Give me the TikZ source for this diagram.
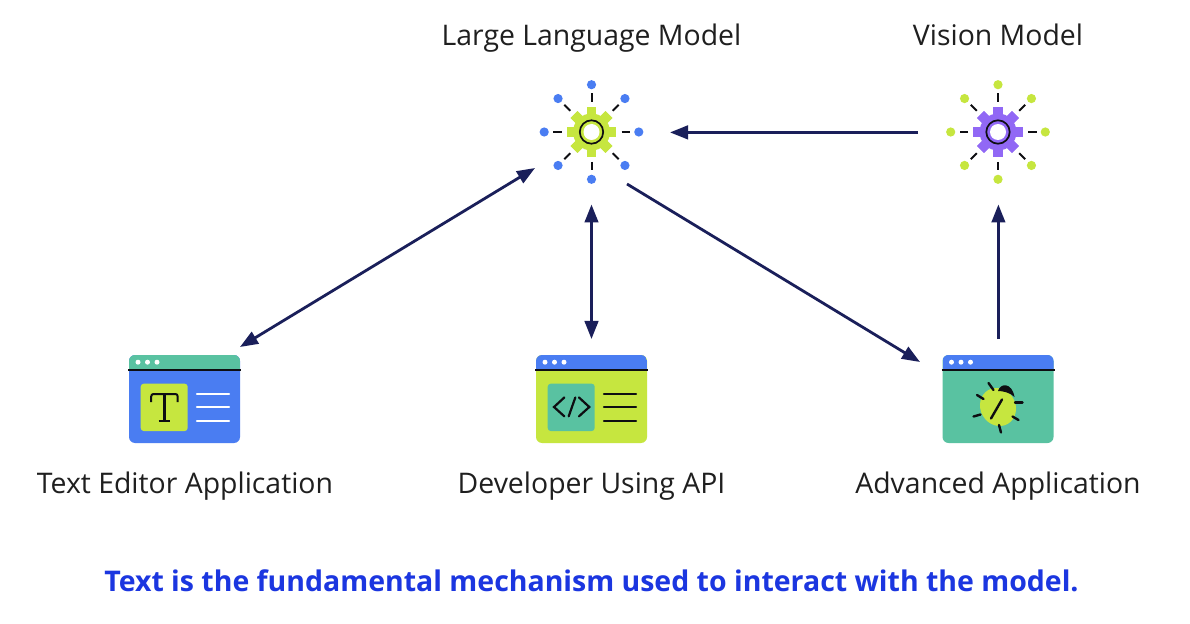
\documentclass[tikz,border=0pt]{standalone}
\usepackage{fontspec}
\setmainfont{Open Sans}
\usetikzlibrary{arrows.meta}
\definecolor{ibl}{HTML}{4A7DF2}
\definecolor{igr}{HTML}{C6E63F}
\definecolor{itl}{HTML}{59C2A1}
\definecolor{ipu}{HTML}{9168F5}
\definecolor{navy}{HTML}{1A1F5A}
\definecolor{ink}{HTML}{0E0E12}
\definecolor{capblue}{HTML}{1B36E0}
\tikzset{
  headtip/.tip={Triangle[length=18*0.75pt,width=13.5*0.75pt]},
  conn/.style={draw=navy,line width=2.8*0.75pt,-headtip},
  conn2/.style={draw=navy,line width=2.8*0.75pt,headtip-headtip},
  lbl/.style={font=\fontsize{21.3pt}{25pt}\selectfont,text=black!88,inner sep=0pt,anchor=base},
  caption/.style={font=\fontsize{21.35pt}{25pt}\bfseries\selectfont,text=capblue,inner sep=0pt,anchor=base},
  inkline/.style={draw=ink,line width=2.2*0.75pt,line cap=round},
  pics/gear/.style n args={2}{code={
    \foreach \a in {0,45,...,315}{
      \fill[#1,rotate=\a] (-4.8,-24.7) rectangle (4.8,24.7);
      \fill[#2] ({47.3*cos(\a)},{47.3*sin(\a)}) circle (4.6);
      \draw[draw=ink,line width=2*0.75pt] ({30*cos(\a)},{30*sin(\a)}) -- ({38.5*cos(\a)},{38.5*sin(\a)});
    }
    \fill[#1] (0,0) circle (18.5);
    \fill[white] (0,0) circle (8);
    \draw[draw=ink,line width=1.7*0.75pt] (0,0) circle (11.7);
  }},
  pics/window/.style n args={2}{code={
    \fill[#2,rounded corners=6*0.75pt] (0,0) rectangle (111,88);
    \begin{scope}
      \clip[rounded corners=6*0.75pt] (0,0) rectangle (111,88);
      \fill[#1] (0,0) rectangle (111,15);
    \end{scope}
    \draw[draw=ink,line width=2.2*0.75pt] (-1,15) -- (112,15);
    \foreach \x in {9,18.5,28}{\fill[white] (\x,7.2) circle (2.5);}
  }},
  pics/rows/.style={code={
    \foreach \y in {38.7,52.3,65.7}{\draw[draw=#1,line width=2.2*0.75pt,line cap=round] (68,\y) -- (100,\y);}
  }},
}
\begin{document}
\begin{tikzpicture}[x=0.75pt,y=-0.75pt]
\useasboundingbox (0,0) rectangle (1190,624);
\fill[white] (0,0) rectangle (1190,624);

% gears
\pic at (591.5,132) {gear={igr}{ibl}};
\pic at (998,132) {gear={ipu}{igr}};

% windows
\pic at (129,355) {window={itl}{ibl}};
\fill[igr,rounded corners=3*0.75pt] (140.7,383.7) rectangle (187.7,431);
\pic at (129,355) {rows=white};
\draw[draw=ink,line width=2*0.75pt] (151.2,402) -- (151.2,396.5) to[out=90,in=180] (153.5,394) -- (175.5,394) to[out=0,in=90] (177.7,396.5) -- (177.7,402);
\draw[draw=ink,line width=2.2*0.75pt] (164.4,394) -- (164.4,420.8) (158.5,420.8) -- (170.3,420.8);

\pic at (536,355) {window={ibl}{igr}};
\fill[itl,rounded corners=3*0.75pt] (547.7,383.7) rectangle (594.7,431);
\pic at (536,355) {rows=ink};
\draw[inkline] (564.3,397.5) -- (554,407) -- (564.3,416.3);
\draw[inkline] (568.7,416.3) -- (575.3,397.5);
\draw[inkline] (579,397.5) -- (589.3,407) -- (579,416.3);

\pic at (942.5,355) {window={ibl}{itl}};
\fill[igr,rotate around={-60:(998,407)}] (998,407) ellipse (19.5 and 17.5);
\fill[ink] (998,391) .. controls (1000,383) and (1012,382) .. (1014.5,397) .. controls (1010,392.5) and (1003,391) .. cycle;
\draw[inkline,line width=2.4*0.75pt] (991,418.5) -- (1002,399.5);
\draw[inkline,line width=2.4*0.75pt] (988.5,383) -- (993.5,390);
\draw[inkline,line width=2.4*0.75pt] (977,395) -- (983.5,399);
\draw[inkline,line width=2.4*0.75pt] (973.5,416.5) -- (980.5,414.5);
\draw[inkline,line width=2.4*0.75pt] (999,425) -- (1001,432.5);
\draw[inkline,line width=2.4*0.75pt] (1012.5,416.5) -- (1018.5,420);
\draw[inkline,line width=2.4*0.75pt] (1015,402.5) -- (1022.5,402.5);

% labels
\node[lbl] (llm) at (591.5,45.5) {Large Language Model};
\node[lbl] (vis) at (998,45.5) {Vision Model};
\node[lbl] (ted) at (185,493) {Text Editor Application};
\node[lbl] (dev) at (591.5,493) {Developer Using API};
\node[lbl] (adv) at (998,493) {Advanced Application};
\node[caption] (cap) at (591.5,591) {Text is the fundamental mechanism used to interact with the model.};

% connector ends
\coordinate (llmL) at (535,168);
\coordinate (llmB) at (591.5,204.5);
\coordinate (llmD) at (627,184);
\coordinate (llmR) at (670,132.4);
\coordinate (visL) at (918,132.4);
\coordinate (visB) at (998.4,204.5);
\coordinate (tedT) at (240,347);
\coordinate (devT) at (591.5,339);
\coordinate (advL) at (920,362);
\coordinate (advT) at (998.4,339);

\draw[conn2] (llmL) -- (tedT);
\draw[conn2] (llmB) -- (devT);
\draw[conn] (llmD) -- (advL);
\draw[conn] (visL) -- (llmR);
\draw[conn] (advT) -- (visB);
\end{tikzpicture}
\end{document}
